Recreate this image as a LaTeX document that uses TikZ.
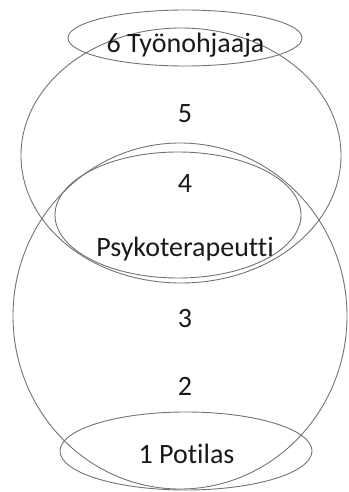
\documentclass[tikz,border=0pt]{standalone}
\usepackage{fontspec}
\setmainfont{Carlito}[Ligatures=NoCommon]
\begin{document}
\begin{tikzpicture}[x=1pt,y=-1pt,
  ring/.style={draw=black!55,line width=0.9pt},
  lbl/.style={font=\fontsize{28}{30}\selectfont,inner sep=0pt,anchor=base,text=black!90}]
\useasboundingbox (0,0) rectangle (348,492);
\draw[ring] (181,155.5) ellipse [x radius=160,y radius=127.5];
\draw[ring] (180,316) ellipse [x radius=167,y radius=173];
\draw[ring] (178,215) ellipse [x radius=123,y radius=63];
\draw[ring] (185,38) ellipse [x radius=117,y radius=28];
\draw[ring] (186,451) ellipse [x radius=126,y radius=39];
\node[lbl] (t6) at (185.5,53) {6 Työnohjaaja};
\node[lbl] (t5) at (185,122) {5};
\node[lbl] (t4) at (185,192) {4};
\node[lbl] (tp) at (185,256) {Psykoterapeutti};
\node[lbl] (t3) at (185,327) {3};
\node[lbl] (t2) at (185,395) {2};
\node[lbl] (t1) at (186.5,463) {1 Potilas};
\end{tikzpicture}
\end{document}
